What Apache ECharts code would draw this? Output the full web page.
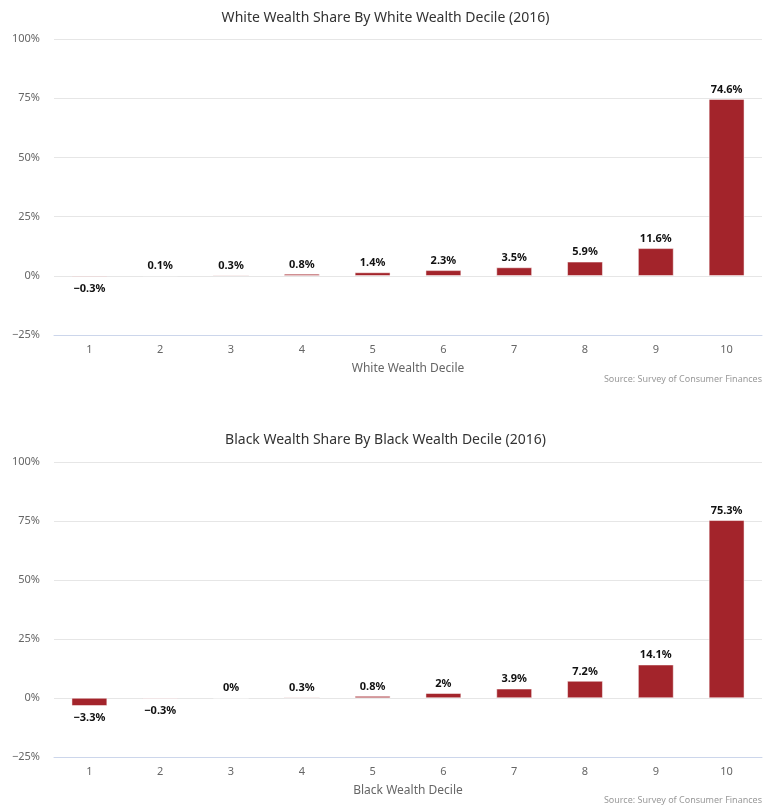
<!DOCTYPE html>
<html>
<head>
<meta charset="utf-8">
<script src="https://cdn.jsdelivr.net/npm/echarts@6/dist/echarts.min.js"></script>
<style>
  html, body { margin: 0; padding: 0; background: #fff; }
  #chart { width: 771px; height: 811px; }
</style>
</head>
<body>
<div id="chart"></div>
<script>
var deciles = ['1', '2', '3', '4', '5', '6', '7', '8', '9', '10'];
var whiteShare = [-0.3, 0.1, 0.3, 0.8, 1.4, 2.3, 3.5, 5.9, 11.6, 74.6];
var blackShare = [-3.3, -0.3, 0, 0.3, 0.8, 2, 3.9, 7.2, 14.1, 75.3];

var FONT = '"Noto Sans", "DejaVu Sans", sans-serif';
var BAR_COLOR = '#a3242b';

function pct(v) {
  return String(v).replace('-', '\u2212') + '%';
}

// 负值的标签放在柱子下方
function barData(values) {
  return values.map(function (v) {
    return {
      value: v,
      label: v < 0 ? { position: 'bottom', distance: 7 } : { position: 'top', distance: 4 }
    };
  });
}

function xAxisFor(idx, name) {
  return {
    type: 'category',
    gridIndex: idx,
    data: deciles,
    z: 3,
    name: name,
    nameLocation: 'middle',
    nameGap: 28,
    nameTextStyle: { color: '#666', fontSize: 12, fontFamily: FONT },
    axisLine: { onZero: false, lineStyle: { color: '#ccd6eb', width: 1 } },
    axisTick: { show: false },
    axisLabel: { color: '#666', fontSize: 11, fontFamily: FONT, margin: 9 },
    splitLine: { show: false }
  };
}

function yAxisFor(idx) {
  return {
    type: 'value',
    gridIndex: idx,
    min: -25,
    max: 100,
    interval: 25,
    axisLine: { show: false },
    axisTick: { show: false },
    axisLabel: {
      color: '#666', fontSize: 11, fontFamily: FONT, margin: 14,
      formatter: function (v) { return pct(v); }
    },
    splitLine: { lineStyle: { color: '#e6e6e6', width: 1 } }
  };
}

function seriesFor(idx, values) {
  return {
    type: 'bar',
    xAxisIndex: idx,
    yAxisIndex: idx,
    data: barData(values),
    barWidth: '50%',
    itemStyle: { color: BAR_COLOR, borderColor: '#fff', borderWidth: 0.5 },
    label: {
      show: true,
      color: '#111',
      fontSize: 11,
      fontWeight: 'bold',
      fontFamily: FONT,
      textBorderColor: '#fff',
      textBorderWidth: 2,
      formatter: function (p) { return pct(p.value); }
    }
  };
}

var myChart = echarts.init(document.getElementById('chart'));

var option = {
  backgroundColor: '#fff',
  animation: false,
  title: [
    {
      text: 'White Wealth Share By White Wealth Decile (2016)',
      left: 'center', top: 6,
      textStyle: { color: '#333', fontSize: 14, fontWeight: 'normal', fontFamily: FONT }
    },
    {
      text: 'Source: Survey of Consumer Finances',
      right: 9, top: 375, padding: 0,
      textStyle: { color: '#999', fontSize: 9, fontWeight: 'normal', fontFamily: FONT }
    },
    {
      text: 'Black Wealth Share By Black Wealth Decile (2016)',
      left: 'center', top: 428,
      textStyle: { color: '#333', fontSize: 14, fontWeight: 'normal', fontFamily: FONT }
    },
    {
      text: 'Source: Survey of Consumer Finances',
      right: 9, top: 796, padding: 0,
      textStyle: { color: '#999', fontSize: 9, fontWeight: 'normal', fontFamily: FONT }
    }
  ],
  grid: [
    { left: 54, right: 9, top: 39, height: 296 },
    { left: 54, right: 9, top: 462, height: 295 }
  ],
  xAxis: [xAxisFor(0, 'White Wealth Decile'), xAxisFor(1, 'Black Wealth Decile')],
  yAxis: [yAxisFor(0), yAxisFor(1)],
  series: [seriesFor(0, whiteShare), seriesFor(1, blackShare)]
};

myChart.setOption(option);
</script>
</body>
</html>
